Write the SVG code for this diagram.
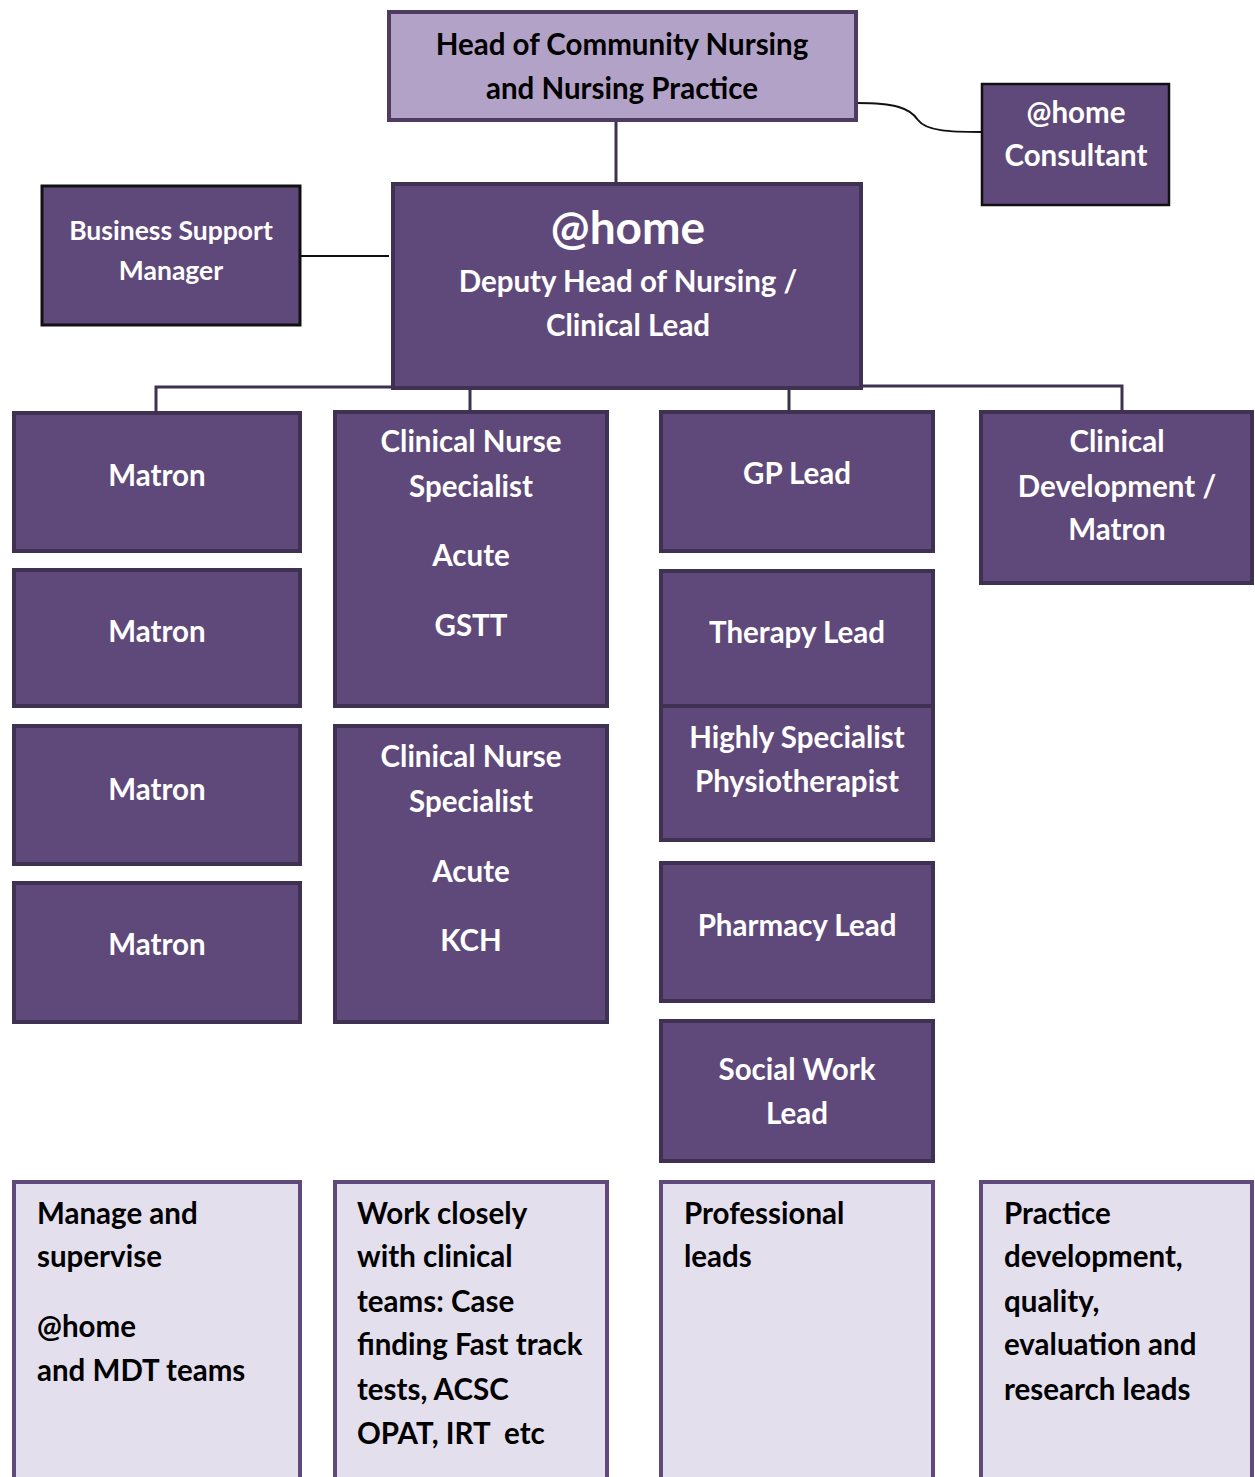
<svg xmlns="http://www.w3.org/2000/svg" width="1255" height="1477" viewBox="0 0 1255 1477">
<style>
.dark{fill:#5f497a;stroke:#3f3151;stroke-width:4}
.blk{fill:#5f497a;stroke:#111;stroke-width:2.5}
.lite{fill:#e4dfec;stroke:#604a7b;stroke-width:4}
.head{fill:#b3a2c7;stroke:#4f3b62;stroke-width:4}
text{font-family:Lato,"Open Sans","Liberation Sans",sans-serif;font-weight:bold;font-size:29.5px}
.w{fill:#ffffff;text-anchor:middle}
.k{fill:#000000}
.kc{fill:#000000;text-anchor:middle}
.con{fill:none;stroke:#3f3151;stroke-width:3}
.thin{fill:none;stroke:#111;stroke-width:2}
</style>
<rect width="1255" height="1477" fill="#ffffff"/>
<g id="connectors">
<path class="con" d="M616 121V183"/>
<path class="thin" d="M857 103C895 103 910 108 918 120C926 131 950 132 981 132"/>
<path class="thin" d="M300 256H389"/>
<path class="con" d="M156 412V387H392"/>
<path class="con" d="M862 386H1122V411"/>
<path class="con" d="M470 389V411"/>
<path class="con" d="M789 389V411"/>
</g>
<g id="head">
<rect class="head" x="389" y="12" width="467" height="108"/>
<text class="kc" x="622" y="55">Head of Community Nursing</text>
<text class="kc" x="622" y="99">and Nursing Practice</text>
</g>
<g id="consultant">
<rect class="blk" x="982" y="84" width="187" height="121"/>
<text class="w" x="1076" y="123">@home</text>
<text class="w" x="1076" y="166">Consultant</text>
</g>
<g id="bsm">
<rect class="blk" x="42" y="186" width="258" height="139" style="stroke-width:3"/>
<text class="w" x="171" y="240" style="font-size:26.5px">Business Support</text>
<text class="w" x="171" y="280" style="font-size:26.5px">Manager</text>
</g>
<g id="deputy">
<rect class="dark" x="393" y="184" width="468" height="204"/>
<text class="w" x="628" y="244" style="font-size:46px">@home</text>
<text class="w" x="628" y="292">Deputy Head of Nursing /</text>
<text class="w" x="628" y="336">Clinical Lead</text>
</g>
<g id="matron1">
<rect class="dark" x="14" y="413" width="286" height="138"/>
<text class="w" x="157" y="486">Matron</text>
</g>
<g id="matron2">
<rect class="dark" x="14" y="570" width="286" height="136"/>
<text class="w" x="157" y="642">Matron</text>
</g>
<g id="matron3">
<rect class="dark" x="14" y="726" width="286" height="138"/>
<text class="w" x="157" y="800">Matron</text>
</g>
<g id="matron4">
<rect class="dark" x="14" y="883" width="286" height="139"/>
<text class="w" x="157" y="955">Matron</text>
</g>
<g id="cns-gstt">
<rect class="dark" x="335" y="412" width="272" height="294"/>
<text class="w" x="471" y="452">Clinical Nurse</text>
<text class="w" x="471" y="497">Specialist</text>
<text class="w" x="471" y="566">Acute</text>
<text class="w" x="471" y="636">GSTT</text>
</g>
<g id="cns-kch">
<rect class="dark" x="335" y="726" width="272" height="296"/>
<text class="w" x="471" y="767">Clinical Nurse</text>
<text class="w" x="471" y="812">Specialist</text>
<text class="w" x="471" y="882">Acute</text>
<text class="w" x="471" y="951">KCH</text>
</g>
<g id="gp">
<rect class="dark" x="661" y="412" width="272" height="139"/>
<text class="w" x="797" y="484">GP Lead</text>
</g>
<g id="therapy">
<rect class="dark" x="661" y="571" width="272" height="135"/>
<text class="w" x="797" y="643">Therapy Lead</text>
</g>
<g id="physio">
<rect class="dark" x="661" y="706" width="272" height="134"/>
<text class="w" x="797" y="748">Highly Specialist</text>
<text class="w" x="797" y="792">Physiotherapist</text>
</g>
<g id="pharmacy">
<rect class="dark" x="661" y="863" width="272" height="138"/>
<text class="w" x="797" y="936">Pharmacy Lead</text>
</g>
<g id="social">
<rect class="dark" x="661" y="1021" width="272" height="140"/>
<text class="w" x="797" y="1080">Social Work</text>
<text class="w" x="797" y="1124">Lead</text>
</g>
<g id="clindev">
<rect class="dark" x="981" y="412" width="271" height="171"/>
<text class="w" x="1117" y="452">Clinical</text>
<text class="w" x="1117" y="497">Development /</text>
<text class="w" x="1117" y="540">Matron</text>
</g>
<g id="desc1">
<rect class="lite" x="14" y="1182" width="286" height="300"/>
<text class="k" x="37" y="1224">Manage and</text>
<text class="k" x="37" y="1267">supervise</text>
<text class="k" x="37" y="1337">@home</text>
<text class="k" x="37" y="1381">and MDT teams</text>
</g>
<g id="desc2">
<rect class="lite" x="335" y="1182" width="272" height="300"/>
<text class="k" x="357" y="1224">Work closely</text>
<text class="k" x="357" y="1267">with clinical</text>
<text class="k" x="357" y="1312">teams: Case</text>
<text class="k" x="357" y="1355">finding Fast track</text>
<text class="k" x="357" y="1400">tests, ACSC</text>
<text class="k" x="357" y="1444" style="white-space:pre">OPAT, IRT  etc</text>
</g>
<g id="desc3">
<rect class="lite" x="661" y="1182" width="272" height="300"/>
<text class="k" x="684" y="1224">Professional</text>
<text class="k" x="684" y="1267">leads</text>
</g>
<g id="desc4">
<rect class="lite" x="981" y="1182" width="271" height="300"/>
<text class="k" x="1004" y="1224">Practice</text>
<text class="k" x="1004" y="1267">development,</text>
<text class="k" x="1004" y="1312">quality,</text>
<text class="k" x="1004" y="1355">evaluation and</text>
<text class="k" x="1004" y="1400">research leads</text>
</g>
</svg>
